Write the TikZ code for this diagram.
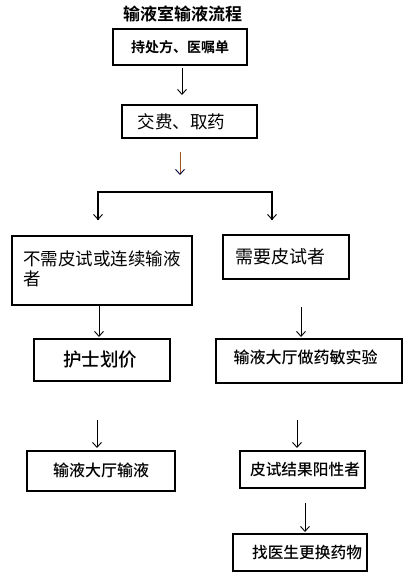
\documentclass[tikz,border=0pt]{standalone}
\usepackage{fontspec}
\setmainfont{Noto Sans CJK SC}[BoldFont={Noto Sans CJK SC Bold}]
\newfontfamily\medfont{Noto Sans CJK SC Medium}
\usetikzlibrary{arrows.meta}
\definecolor{brownarrow}{RGB}{160,82,30}
\tikzset{
  box/.style={draw=black, line width=1.8pt, inner sep=0pt, anchor=center},
  arr/.style={draw=black, line width=0.8pt, -{Straight Barb[length=5pt,width=9pt,line width=0.9pt]}},
  fs/.style={font=\fontsize{#1}{#1}\selectfont},
  fm/.style={font=\medfont\fontsize{#1}{#1}\selectfont}
}
\begin{document}
\begin{tikzpicture}[x=1pt,y=-1pt]
\useasboundingbox (0,0) rectangle (412,576);
\fill[white] (0,0) rectangle (412,576);
% title
\node[font=\bfseries\fontsize{17}{17}\selectfont, inner sep=0pt] (title) at (182.5,14) {输液室输液流程};
% boxes
\node[box, minimum width=134pt, minimum height=36pt, font=\bfseries\fontsize{14}{14}\selectfont] (b1) at (180,47) {持处方、医嘱单};
\node[box, minimum width=135pt, minimum height=33pt, fs=17.5] (b2) at (189.5,121.5) {\hspace*{-16pt}交费、取药};
\node[box, minimum width=180pt, minimum height=69pt, fs=17.5] (b3l) at (102,270.5)
  {\raisebox{6.5pt}{\begin{tabular}{@{}l@{}}不需皮试或连续输液\\者\end{tabular}}};
\node[box, minimum width=126pt, minimum height=44pt, fs=18] (b3r) at (286,257) {\hspace*{-12pt}\raisebox{-5pt}{需要皮试者}};
\node[box, minimum width=136pt, minimum height=42pt, fm=18.5] (b4l) at (102,360) {\hspace*{-4pt}\raisebox{-7pt}{护士划价}};
\node[box, minimum width=186pt, minimum height=44pt, fm=16] (b4r) at (309,361) {\hspace*{-7pt}\raisebox{8pt}{输液大厅做药敏实验}};
\node[box, minimum width=148pt, minimum height=40pt, fm=16] (b5l) at (101,471) {\raisebox{3pt}{输液大厅输液}};
\node[box, minimum width=125pt, minimum height=37pt, fm=15.7] (b5r) at (302.5,469.5) {\hspace*{5pt}\raisebox{1.5pt}{皮试结果阳性者}};
\node[box, minimum width=134pt, minimum height=37pt, fm=15.7] (b6r) at (300,552.5) {\hspace*{14pt}\raisebox{0.5pt}{找医生更换药物}};
% connector coordinates
\coordinate (a1s) at (182,68);  \coordinate (a1e) at (182,95);
\coordinate (a2s) at (180,152); \coordinate (a2e) at (180,175);
\coordinate (sl) at (98,192);   \coordinate (sr) at (272,192);
\coordinate (sle) at (98,220);  \coordinate (sre) at (272,220);
\coordinate (a3ls) at (99,306); \coordinate (a3le) at (99,337);
\coordinate (a3rs) at (301,307);\coordinate (a3re) at (301,337);
\coordinate (a4ls) at (97,420); \coordinate (a4le) at (97,448);
\coordinate (a4rs) at (297,420);\coordinate (a4re) at (297,448);
\coordinate (a5rs) at (305,503);\coordinate (a5re) at (305,532);
% connectors
\draw[arr] (a1s) -- (a1e);
\draw[arr, draw=brownarrow, -{Straight Barb[length=5pt,width=9pt,line width=0.9pt,color=black!80!blue]}] (a2s) -- (a2e);
\draw[line width=1.8pt] (sle) -- (sl) -- (sr) -- (sre);
\draw[arr] (sl) -- (sle);
\draw[arr] (sr) -- (sre);
\draw[arr] (a3ls) -- (a3le);
\draw[arr] (a3rs) -- (a3re);
\draw[arr] (a4ls) -- (a4le);
\draw[arr] (a4rs) -- (a4re);
\draw[arr] (a5rs) -- (a5re);
\end{tikzpicture}
\end{document}
